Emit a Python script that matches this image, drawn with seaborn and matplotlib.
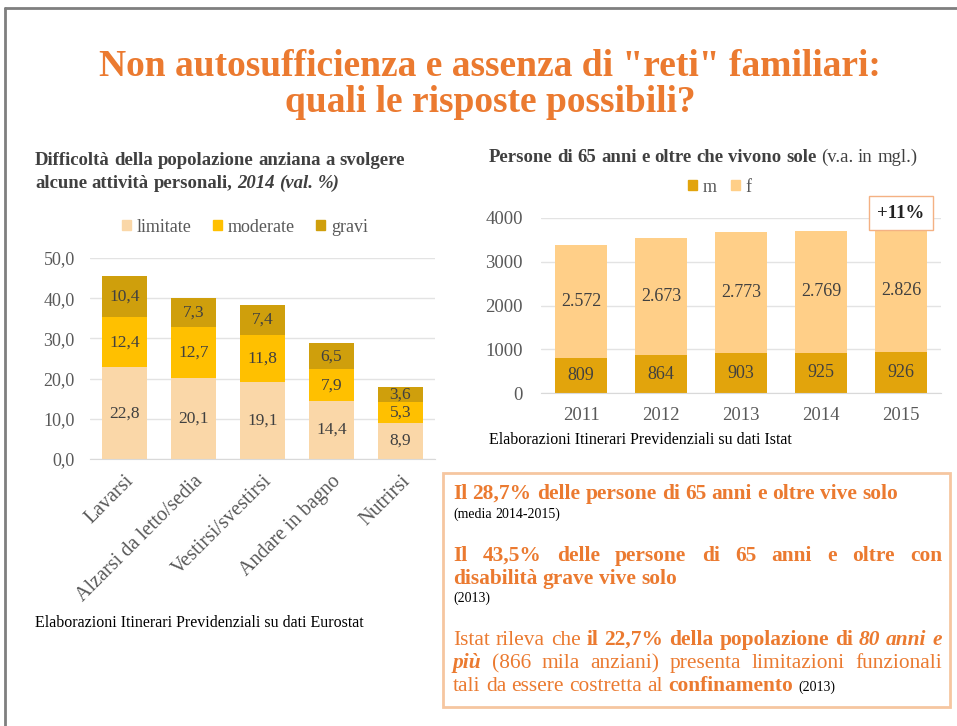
import pandas as pd
import seaborn as sns
import matplotlib.pyplot as plt
from matplotlib.patches import Patch, Rectangle
from matplotlib.lines import Line2D

# Left chart: difficulties of elderly people (2014, %)
activities = ['Lavarsi', 'Alzarsi da letto/sedia', 'Vestirsi/svestirsi',
              'Andare in bagno', 'Nutrirsi']
limitate = [22.8, 20.1, 19.1, 14.4, 8.9]
moderate = [12.4, 12.7, 11.8, 7.9, 5.3]
gravi = [10.4, 7.3, 7.4, 6.5, 3.6]
left_ticks = [0, 10, 20, 30, 40, 50]

# Right chart: people 65+ living alone (thousands)
years = ['2011', '2012', '2013', '2014', '2015']
maschi = [809, 864, 903, 925, 926]
femmine = [2572, 2673, 2773, 2769, 2826]
right_ticks = [0, 1000, 2000, 3000, 4000]

C_LIM, C_MOD, C_GRA = '#FAD7A8', '#FFC000', '#CF9F0C'
C_M, C_F = '#E2A40C', '#FFCF88'
ORANGE = '#EB7A30'
GREY = '#595959'

W, H = 957, 726
sns.set_style('white')
plt.rcParams['font.family'] = 'serif'
plt.rcParams['font.serif'] = ['Liberation Serif', 'DejaVu Serif']

fig = plt.figure(figsize=(W / 100, H / 100), dpi=100)


def fx(x):
    return x / W


def fy(y):
    return 1 - y / H


# slide frame
fig.add_artist(Line2D([fx(5), fx(5)], [fy(8), fy(726)], color='#7f7f7f', lw=2))
fig.add_artist(Line2D([fx(5), fx(957)], [fy(8), fy(8)], color='#7f7f7f', lw=2))

# main title
fig.text(fx(490), fy(76), 'Non autosufficienza e assenza di "reti" familiari:',
         ha='center', va='baseline', fontsize=27, fontweight='bold', color=ORANGE)
fig.text(fx(490), fy(112), 'quali le risposte possibili?',
         ha='center', va='baseline', fontsize=27, fontweight='bold', color=ORANGE)

renderer = fig.canvas.get_renderer()


def put_runs(x, y, runs, right=None):
    # place words one after another; stretch the gaps when right is given
    items = []
    for txt, props in runs:
        for w in txt.split():
            items.append(fig.text(fx(x), fy(y), w, ha='left', va='baseline', **props))
    widths = [t.get_window_extent(renderer).width for t in items]
    if right is not None and len(items) > 1:
        gap = (right - x - sum(widths)) / (len(items) - 1)
    else:
        gap = 0.25 * items[0].get_fontsize() * 100 / 72
    cur = x
    for t, w in zip(items, widths):
        t.set_x(fx(cur))
        cur += w + gap


# ---------------- left chart ----------------
df1 = pd.DataFrame({'att': activities, 'lim': limitate, 'mod': moderate, 'gra': gravi})
df1['lim_mod'] = df1['lim'] + df1['mod']
df1['tot'] = df1['lim_mod'] + df1['gra']

ax1 = fig.add_axes([fx(90), fy(459), 345 / W, 201 / H])
for col, c in [('tot', C_GRA), ('lim_mod', C_MOD), ('lim', C_LIM)]:
    sns.barplot(data=df1, x='att', y=col, color=c, saturation=1, width=0.66,
                errorbar=None, linewidth=0, ax=ax1)

for i, row in df1.iterrows():
    for val, base in [(row['lim'], 0), (row['mod'], row['lim']), (row['gra'], row['lim_mod'])]:
        ax1.text(i, base + val / 2, f'{val:.1f}'.replace('.', ','), ha='center',
                 va='center', fontsize=12.5, color='#404040')

ax1.set_xlim(-0.5, 4.5)
ax1.set_ylim(0, 50)
ax1.set_yticks(left_ticks)
ax1.set_yticklabels([f'{t:.1f}'.replace('.', ',') for t in left_ticks])
ax1.set_xticks(range(len(activities)))
ax1.set_xticklabels(activities, rotation=45, ha='right', rotation_mode='anchor')
ax1.set_xlabel('')
ax1.set_ylabel('')

# ---------------- right chart ----------------
df2 = pd.DataFrame({'anno': years, 'm': maschi, 'f': femmine})
df2['tot'] = df2['m'] + df2['f']

ax2 = fig.add_axes([fx(541), fy(393), 400 / W, 175 / H])
sns.barplot(data=df2, x='anno', y='tot', color=C_F, saturation=1, width=0.65,
            errorbar=None, linewidth=0, ax=ax2)
sns.barplot(data=df2, x='anno', y='m', color=C_M, saturation=1, width=0.65,
            errorbar=None, linewidth=0, ax=ax2)

for i, row in df2.iterrows():
    ax2.text(i, row['m'] / 2, f"{row['m']:,}".replace(',', '.'), ha='center',
             va='center', fontsize=13, color='#404040')
    ax2.text(i, row['m'] + row['f'] / 2, f"{row['f']:,}".replace(',', '.'), ha='center',
             va='center', fontsize=13, color='#404040')

ax2.text(4, 4110, '+11%', ha='center', va='center', fontsize=13.5, fontweight='bold',
         color='#222222', clip_on=False, zorder=6,
         bbox=dict(boxstyle='square,pad=0.45', fc='white', ec='#F4B183', lw=1))

ax2.set_xlim(-0.5, 4.5)
ax2.set_ylim(0, 4000)
ax2.set_yticks(right_ticks)
ax2.set_yticklabels([str(t) for t in right_ticks])
ax2.set_xlabel('')
ax2.set_ylabel('')

for ax, lbl_size in [(ax1, 13), (ax2, 13.5)]:
    ax.set_facecolor('none')
    ax.grid(axis='y', color='#E3E3E3', lw=1)
    ax.set_axisbelow(True)
    for s in ['top', 'right', 'left']:
        ax.spines[s].set_visible(False)
    ax.spines['bottom'].set_color('#D9D9D9')
    ax.tick_params(length=0, labelsize=lbl_size, colors=GREY)
ax1.tick_params(axis='y', pad=11)
ax1.tick_params(axis='x', pad=9, labelsize=14.5)
ax2.tick_params(axis='y', pad=13)
ax2.tick_params(axis='x', pad=10)

# legends
fig.legend(handles=[Patch(color=C_LIM, label='limitate'),
                    Patch(color=C_MOD, label='moderate'),
                    Patch(color=C_GRA, label='gravi')],
           loc='center', bbox_to_anchor=(fx(245), fy(227)), ncol=3, frameon=False,
           fontsize=13, handlelength=0.5, handleheight=0.5, handletextpad=0.3,
           columnspacing=1.2, labelcolor=GREY)
fig.legend(handles=[Patch(color=C_M, label='m'), Patch(color=C_F, label='f')],
           loc='center', bbox_to_anchor=(fx(720), fy(187)), ncol=2, frameon=False,
           fontsize=13, handlelength=0.5, handleheight=0.5, handletextpad=0.3,
           columnspacing=0.8, labelcolor=GREY)

# chart titles and sources
bold_dark = dict(fontsize=13.5, fontweight='bold', color='#404040')
put_runs(35, 165, [('Difficoltà della popolazione anziana a svolgere', bold_dark)])
put_runs(35, 188, [('alcune attività personali,', bold_dark),
                   ('2014 (val. %)', dict(bold_dark, fontstyle='italic'))])
put_runs(489, 162, [('Persone di 65 anni e oltre che vivono sole', bold_dark),
                    ('(v.a. in mgl.)', dict(fontsize=13.5, color='#404040'))])
fig.text(fx(35), fy(627), 'Elaborazioni Itinerari Previdenziali su dati Eurostat',
         fontsize=11.5, color='black', va='baseline')
fig.text(fx(489), fy(444), 'Elaborazioni Itinerari Previdenziali su dati Istat',
         fontsize=11.5, color='black', va='baseline')

# text box
fig.add_artist(Rectangle((fx(443), fy(707)), (950 - 443) / W, (707 - 473) / H,
                         fill=False, ec='#F6C6A0', lw=2))
hb = dict(fontsize=15.4, fontweight='bold', color=ORANGE)
hn = dict(fontsize=15.4, color=ORANGE)
hbi = dict(hb, fontstyle='italic')
small = dict(fontsize=10, color='black')

put_runs(453, 499, [('Il 28,7% delle persone di 65 anni e oltre vive solo', hb)])
put_runs(453, 518, [('(media 2014-2015)', small)])
put_runs(453, 561, [('Il 43,5% delle persone di 65 anni e oltre con', hb)], right=942)
put_runs(453, 584, [('disabilità grave vive solo', hb)])
put_runs(453, 602, [('(2013)', small)])
put_runs(453, 645, [('Istat rileva che', hn), ('il 22,7% della popolazione di', hb),
                    ('80 anni e', hbi)], right=942)
put_runs(453, 668, [('più', hbi), ('(866 mila anziani) presenta limitazioni funzionali', hn)],
         right=942)
put_runs(453, 691, [('tali da essere costretta al', hn), ('confinamento', hb), ('(2013)', small)])

fig.savefig('out.png', dpi=100)
